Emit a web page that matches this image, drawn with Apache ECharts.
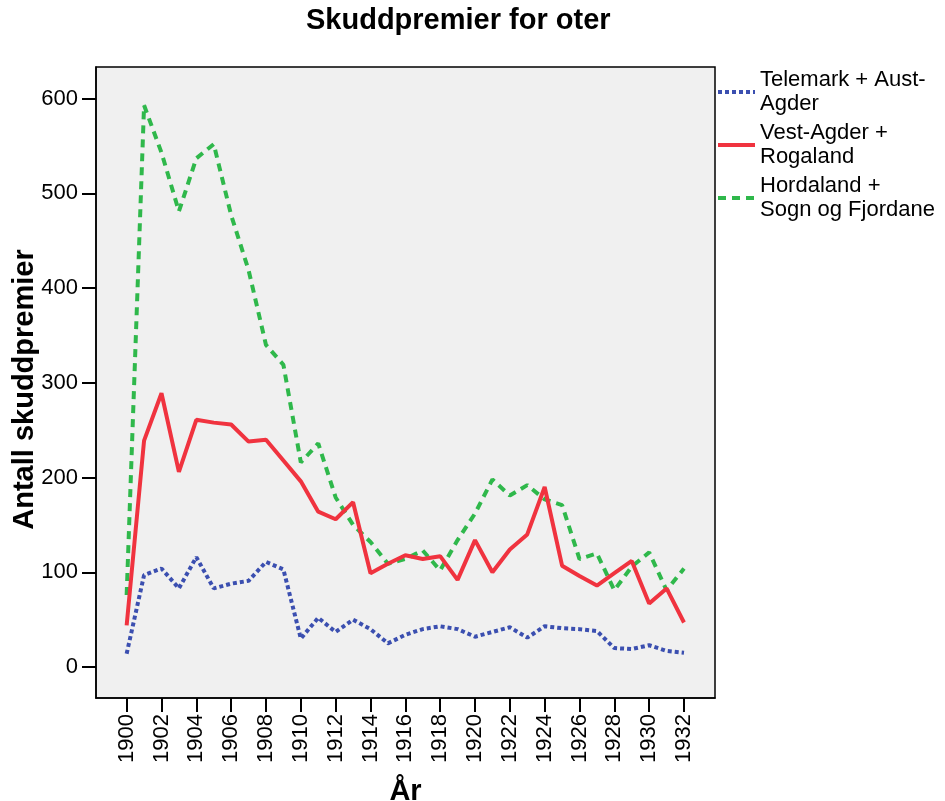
<!DOCTYPE html>
<html>
<head>
<meta charset="utf-8">
<title>Skuddpremier for oter</title>
<script src="https://cdn.jsdelivr.net/npm/echarts@6/dist/echarts.min.js"></script>
<style>
  html, body { margin: 0; padding: 0; background: #fff; }
  #main { width: 945px; height: 801px; }
</style>
</head>
<body>
<div id="main"></div>
<script>
// years 1900..1932
var years = [1900,1901,1902,1903,1904,1905,1906,1907,1908,1909,1910,1911,1912,1913,1914,1915,1916,
  1917,1918,1919,1920,1921,1922,1923,1924,1925,1926,1927,1928,1929,1930,1931,1932];
var yearTicks = [1900,1902,1904,1906,1908,1910,1912,1914,1916,1918,1920,1922,1924,1926,1928,1930,1932];
var valueTicks = [0,100,200,300,400,500,600];

var telemark = [14,97,104,83,116,83,88,91,111,103,30,52,37,50,40,25,34,40,43,40,32,37,42,31,43,41,40,38,20,19,23,17,15];
var vestAgder = [44,239,289,206,261,258,256,238,240,218,196,164,156,174,99,109,118,114,117,92,134,100,124,140,190,107,96,86,99,112,67,83,47];
var hordaland = [76,593,543,481,537,552,477,419,340,319,216,236,179,150,132,109,114,123,102,134,162,198,181,192,177,171,114,120,81,106,121,81,104];

var names = ['Telemark + Aust-Agder', 'Vest-Agder + Rogaland', 'Hordaland + Sogn og Fjordane'];
var legendText = {
  'Telemark + Aust-Agder': 'Telemark + Aust-\nAgder',
  'Vest-Agder + Rogaland': 'Vest-Agder +\nRogaland',
  'Hordaland + Sogn og Fjordane': 'Hordaland +\nSogn og Fjordane'
};

function pairs(vals) {
  var out = [];
  for (var i = 0; i < years.length; i++) out.push([years[i], vals[i]]);
  return out;
}

var font = "'Liberation Sans', Arial, sans-serif";
var chart = echarts.init(document.getElementById('main'), null, { renderer: 'canvas' });

var option = {
  backgroundColor: '#fff',
  animation: false,
  textStyle: { fontFamily: font, color: '#000' },
  title: {
    text: 'Skuddpremier for oter',
    left: 306,
    top: 6,
    padding: 0,
    textStyle: { fontFamily: font, fontSize: 29, fontWeight: 'bold', color: '#000' }
  },
  legend: {
    orient: 'vertical',
    left: 716,
    top: 68,
    padding: 0,
    itemGap: 5,
    itemWidth: 37,
    itemHeight: 14,
    data: names,
    formatter: function (n) { return legendText[n]; },
    itemStyle: { opacity: 0 },
    lineStyle: { width: 4 },
    textStyle: { fontFamily: font, fontSize: 22, lineHeight: 24, color: '#000' }
  },
  grid: {
    left: 96, right: 230, top: 67, bottom: 103,
    show: true,
    backgroundColor: '#f0f0f0',
    borderColor: '#000',
    borderWidth: 1.5,
    containLabel: false,
    outerBoundsMode: 'none'
  },
  xAxis: {
    type: 'value',
    min: 1898.24,
    max: 1933.78,
    name: 'År',
    nameLocation: 'middle',
    nameGap: 79,
    nameMoveOverlap: false,
    nameTextStyle: { fontFamily: font, fontSize: 29, fontWeight: 'bold', color: '#000', verticalAlign: 'top' },
    splitLine: { show: false },
    axisLine: { show: true, onZero: false, lineStyle: { color: '#000', width: 1.5 } },
    axisTick: { show: true, length: 14, customValues: yearTicks, lineStyle: { color: '#000', width: 2 } },
    axisLabel: {
      customValues: yearTicks,
      rotate: 90,
      margin: 16,
      fontFamily: font,
      fontSize: 22,
      color: '#000',
      formatter: function (v) { return String(v); }
    }
  },
  yAxis: {
    type: 'value',
    min: -32.7,
    max: 633.4,
    name: 'Antall skuddpremier',
    nameLocation: 'middle',
    nameGap: 57,
    nameMoveOverlap: false,
    nameTextStyle: { fontFamily: font, fontSize: 29, fontWeight: 'bold', color: '#000', padding: [0, 14, 0, 0] },
    splitLine: { show: false },
    axisLine: { show: true, onZero: false, lineStyle: { color: '#000', width: 1.5 } },
    axisTick: { show: true, length: 14, customValues: valueTicks, lineStyle: { color: '#000', width: 2 } },
    axisLabel: {
      customValues: valueTicks,
      margin: 18,
      fontFamily: font,
      fontSize: 22,
      color: '#000'
    }
  },
  series: [
    {
      name: names[0],
      type: 'line',
      data: pairs(telemark),
      showSymbol: false,
      symbol: 'none',
      color: '#3b4fb0',
      lineStyle: { color: '#3b4fb0', width: 4, type: [4, 3], cap: 'butt' },
      z: 3
    },
    {
      name: names[1],
      type: 'line',
      data: pairs(vestAgder),
      showSymbol: false,
      symbol: 'none',
      color: '#f0333f',
      lineStyle: { color: '#f0333f', width: 4, type: 'solid' },
      z: 4
    },
    {
      name: names[2],
      type: 'line',
      data: pairs(hordaland),
      showSymbol: false,
      symbol: 'none',
      color: '#2fb84b',
      lineStyle: { color: '#2fb84b', width: 4, type: [8, 6], cap: 'butt' },
      z: 2
    }
  ]
};

chart.setOption(option);
</script>
</body>
</html>
